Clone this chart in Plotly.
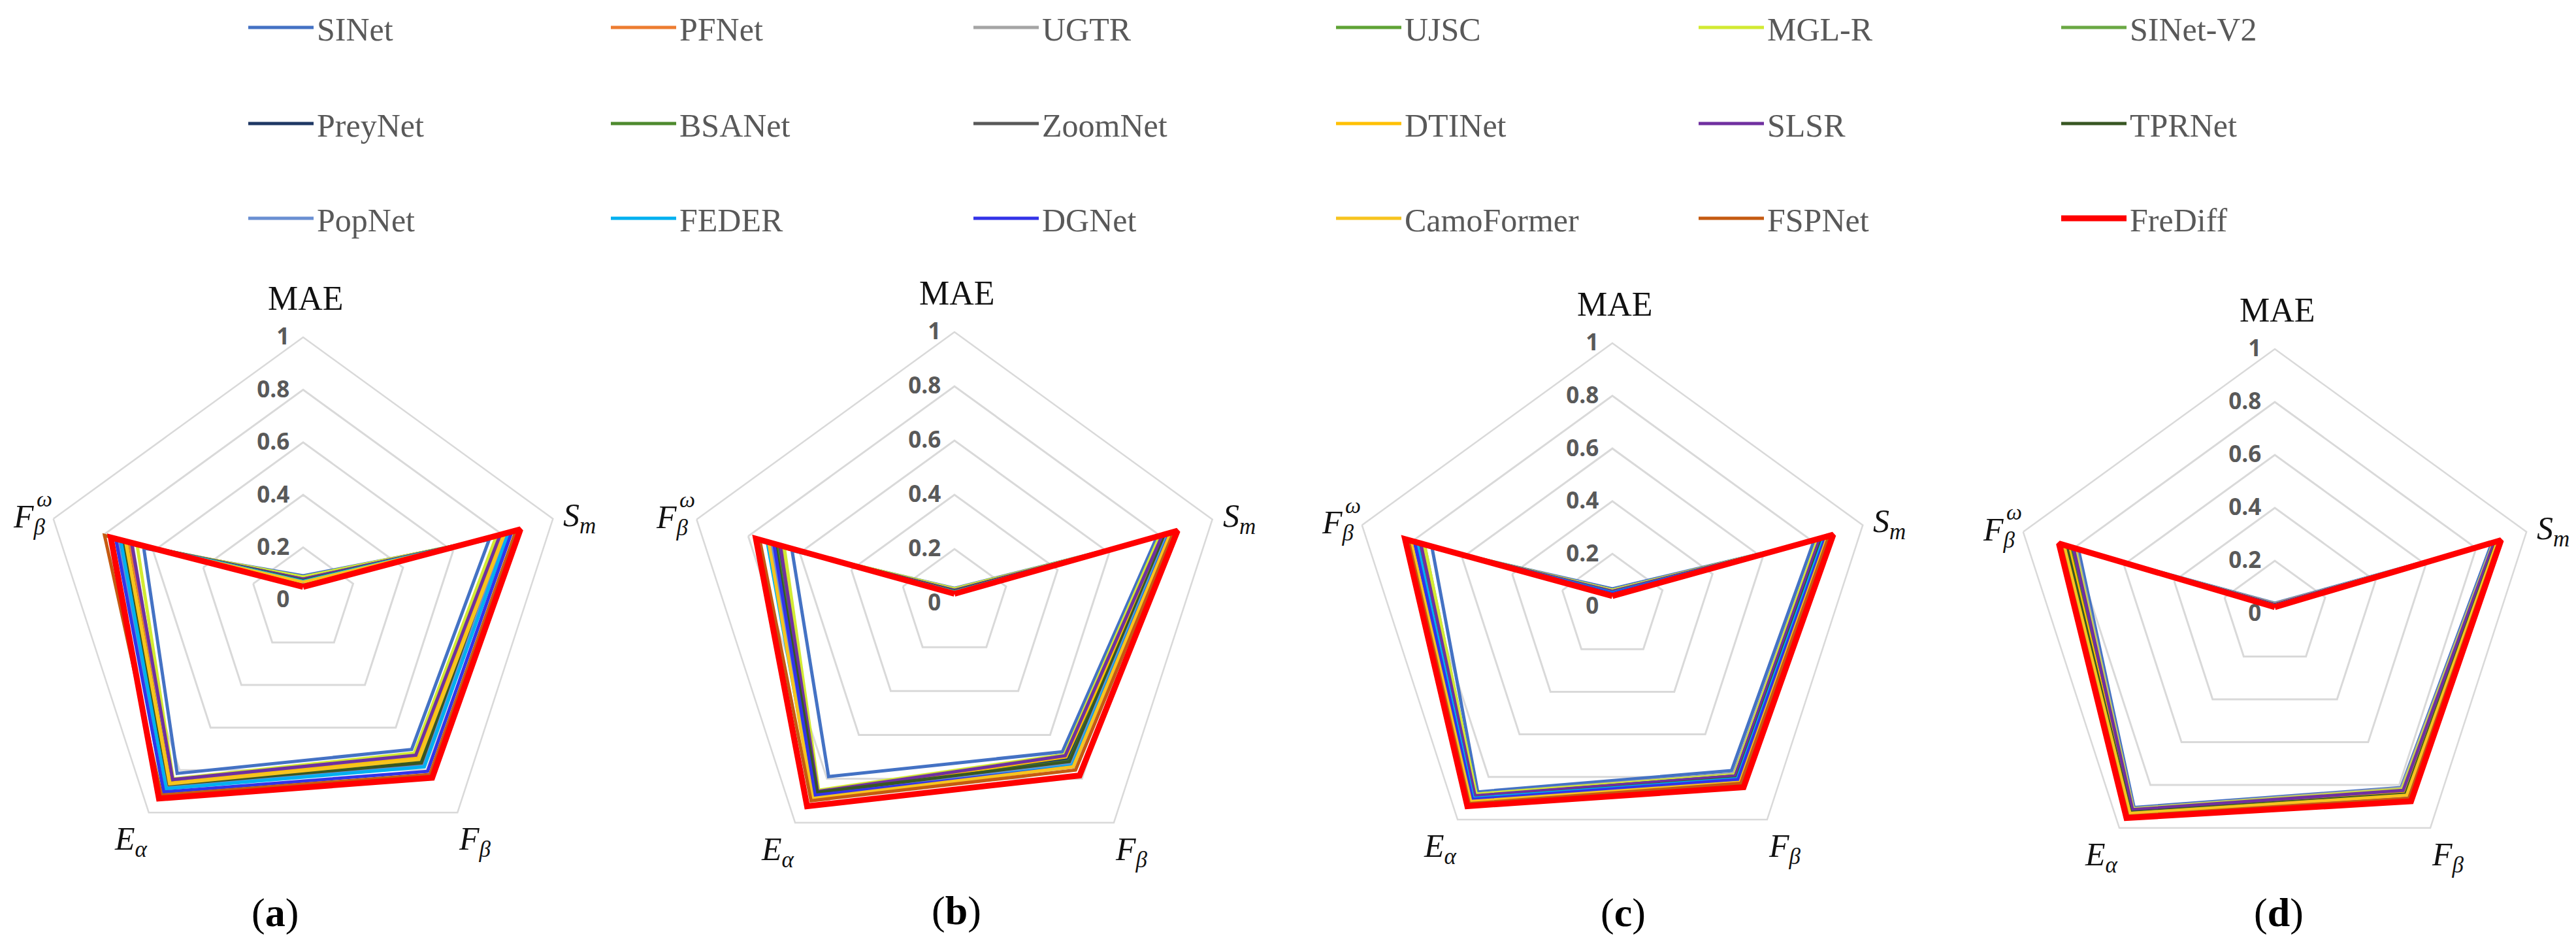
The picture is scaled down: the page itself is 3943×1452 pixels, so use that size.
import math
import plotly.graph_objects as go

# ---------------- data ----------------
metrics = ["MAE", "Sm", "Fβ", "Eα", "Fβω"]
metric_labels = ["MAE", "<i>S</i><sub><i>m</i></sub>", "<i>F</i><sub><i>β</i></sub>",
                 "<i>E</i><sub><i>α</i></sub>", "<i>F</i><sub><i>β</i></sub>"]

methods = ["SINet", "PFNet", "UGTR", "UJSC", "MGL-R", "SINet-V2",
           "PreyNet", "BSANet", "ZoomNet", "DTINet", "SLSR", "TPRNet",
           "PopNet", "FEDER", "DGNet", "CamoFormer", "FSPNet", "FreDiff"]

colors = ["#4472C4", "#ED7D31", "#A5A5A5", "#5FA336", "#D2EA32", "#6AA843",
          "#1F3864", "#4E8A2E", "#595959", "#FFC000", "#7030A0", "#385723",
          "#6A8FD2", "#00B0F0", "#3333E8", "#F7C41F", "#C55A11", "#FF0000"]

# values per panel: [MAE, Sm, F_beta, E_alpha, F_beta^w]
panel_a = {
    "SINet": [0.092, 0.745, 0.703, 0.816, 0.638],
    "PFNet": [0.085, 0.782, 0.746, 0.855, 0.695],
    "UGTR": [0.086, 0.784, 0.740, 0.850, 0.684],
    "UJSC": [0.073, 0.800, 0.768, 0.870, 0.728],
    "MGL-R": [0.088, 0.772, 0.720, 0.842, 0.664],
    "SINet-V2": [0.070, 0.810, 0.770, 0.875, 0.730],
    "PreyNet": [0.077, 0.790, 0.757, 0.862, 0.708],
    "BSANet": [0.079, 0.794, 0.763, 0.866, 0.717],
    "ZoomNet": [0.066, 0.815, 0.778, 0.880, 0.740],
    "DTINet": [0.072, 0.796, 0.745, 0.862, 0.708],
    "SLSR": [0.080, 0.787, 0.730, 0.845, 0.686],
    "TPRNet": [0.074, 0.807, 0.765, 0.877, 0.725],
    "PopNet": [0.070, 0.812, 0.782, 0.885, 0.744],
    "FEDER": [0.071, 0.822, 0.785, 0.888, 0.730],
    "DGNet": [0.060, 0.835, 0.806, 0.903, 0.750],
    "CamoFormer": [0.068, 0.805, 0.750, 0.865, 0.710],
    "FSPNet": [0.055, 0.852, 0.821, 0.918, 0.795],
    "FreDiff": [0.050, 0.870, 0.836, 0.934, 0.770],
}
panel_b = {
    "SINet": [0.055, 0.784, 0.677, 0.790, 0.630],
    "PFNet": [0.050, 0.805, 0.700, 0.860, 0.670],
    "UGTR": [0.050, 0.810, 0.705, 0.855, 0.675],
    "UJSC": [0.045, 0.812, 0.715, 0.868, 0.690],
    "MGL-R": [0.053, 0.795, 0.690, 0.852, 0.660],
    "SINet-V2": [0.045, 0.815, 0.718, 0.862, 0.685],
    "PreyNet": [0.045, 0.813, 0.712, 0.865, 0.685],
    "BSANet": [0.047, 0.818, 0.720, 0.860, 0.690],
    "ZoomNet": [0.042, 0.830, 0.725, 0.870, 0.705],
    "DTINet": [0.045, 0.823, 0.700, 0.865, 0.700],
    "SLSR": [0.048, 0.805, 0.695, 0.858, 0.675],
    "TPRNet": [0.045, 0.820, 0.722, 0.862, 0.695],
    "PopNet": [0.042, 0.828, 0.735, 0.880, 0.710],
    "FEDER": [0.042, 0.833, 0.740, 0.885, 0.726],
    "DGNet": [0.040, 0.835, 0.745, 0.875, 0.700],
    "CamoFormer": [0.040, 0.838, 0.745, 0.890, 0.720],
    "FSPNet": [0.038, 0.850, 0.760, 0.900, 0.755],
    "FreDiff": [0.035, 0.865, 0.785, 0.925, 0.770],
}
panel_c = {
    "SINet": [0.067, 0.805, 0.770, 0.870, 0.720],
    "PFNet": [0.060, 0.825, 0.790, 0.885, 0.760],
    "UGTR": [0.062, 0.820, 0.785, 0.880, 0.750],
    "UJSC": [0.055, 0.835, 0.800, 0.895, 0.775],
    "MGL-R": [0.062, 0.820, 0.790, 0.880, 0.750],
    "SINet-V2": [0.055, 0.838, 0.800, 0.895, 0.775],
    "PreyNet": [0.055, 0.830, 0.795, 0.890, 0.770],
    "BSANet": [0.057, 0.832, 0.800, 0.890, 0.772],
    "ZoomNet": [0.050, 0.845, 0.805, 0.900, 0.785],
    "DTINet": [0.050, 0.850, 0.810, 0.905, 0.790],
    "SLSR": [0.058, 0.828, 0.795, 0.888, 0.765],
    "TPRNet": [0.053, 0.840, 0.805, 0.900, 0.780],
    "PopNet": [0.050, 0.850, 0.812, 0.905, 0.790],
    "FEDER": [0.052, 0.845, 0.808, 0.900, 0.780],
    "DGNet": [0.050, 0.852, 0.812, 0.905, 0.790],
    "CamoFormer": [0.045, 0.860, 0.825, 0.915, 0.805],
    "FSPNet": [0.043, 0.865, 0.830, 0.925, 0.815],
    "FreDiff": [0.040, 0.882, 0.848, 0.937, 0.828],
}
panel_d = {
    "SINet": [0.040, 0.862, 0.812, 0.905, 0.780],
    "PFNet": [0.036, 0.872, 0.825, 0.915, 0.800],
    "UGTR": [0.038, 0.868, 0.815, 0.910, 0.790],
    "UJSC": [0.032, 0.880, 0.840, 0.925, 0.820],
    "MGL-R": [0.036, 0.870, 0.820, 0.912, 0.795],
    "SINet-V2": [0.032, 0.882, 0.842, 0.928, 0.825],
    "PreyNet": [0.034, 0.875, 0.830, 0.920, 0.810],
    "BSANet": [0.033, 0.878, 0.835, 0.922, 0.815],
    "ZoomNet": [0.030, 0.885, 0.845, 0.930, 0.835],
    "DTINet": [0.032, 0.880, 0.835, 0.925, 0.820],
    "SLSR": [0.035, 0.872, 0.825, 0.915, 0.800],
    "TPRNet": [0.031, 0.883, 0.842, 0.928, 0.828],
    "PopNet": [0.029, 0.888, 0.852, 0.935, 0.845],
    "FEDER": [0.030, 0.886, 0.850, 0.933, 0.840],
    "DGNet": [0.028, 0.890, 0.860, 0.940, 0.860],
    "CamoFormer": [0.030, 0.885, 0.848, 0.932, 0.838],
    "FSPNet": [0.027, 0.892, 0.862, 0.945, 0.850],
    "FreDiff": [0.025, 0.899, 0.876, 0.954, 0.858],
}
panels = [panel_a, panel_b, panel_c, panel_d]
panel_labels = ["(<b>a</b>)", "(<b>b</b>)", "(<b>c</b>)", "(<b>d</b>)"]

radial_ticks = [0, 0.2, 0.4, 0.6, 0.8, 1]
radial_ticktext = ["0", "0.2", "0.4", "0.6", "0.8", "1"]

# ---------------- layout constants (pixels) ----------------
W, H = 3943, 1452
centers = [(464, 918), (1461, 923), (2468, 928), (3482, 939)]
radii = [402, 415, 403, 405]
label_pos = [(421, 1396), (1464, 1393), (2484, 1396), (3488, 1396)]
axis_angles = [90, 18, -54, -126, 162]          # degrees, clockwise from top
# label placement relative to each vertex: (dx, dy, xanchor)
label_offsets = [(4, -60, "center"), (14, -2, "left"), (27, 44, "center"),
                 (-27, 44, "center"), (-10, 0, "right")]
omega_offset = (-14, -30)

fig = go.Figure()

for p, data in enumerate(panels):
    sub = "polar" if p == 0 else f"polar{p+1}"
    for i, m in enumerate(methods):
        vals = data[m]
        fig.add_trace(go.Scatterpolar(
            r=vals + vals[:1],
            theta=metrics + metrics[:1],
            mode="lines",
            name=m,
            line=dict(color=colors[i], width=9 if m == "FreDiff" else 5),
            subplot=sub,
            legendgroup=m,
            showlegend=(p == 0),
            legend="legend" if i < 6 else ("legend2" if i < 12 else "legend3"),
        ))

polar_common = dict(
    bgcolor="rgba(0,0,0,0)",
    gridshape="linear",
    radialaxis=dict(
        range=[0, 1], tickvals=radial_ticks, ticktext=radial_ticktext,
        angle=90, tickangle=90, side="counterclockwise",
        showline=False, showgrid=True, gridcolor="#D9D9D9", gridwidth=2.5,
        ticks="outside", ticklen=8, tickcolor="rgba(0,0,0,0)",
        tickfont=dict(family="Open Sans", size=35, color="#595959", weight="bold"),
        layer="below traces",
    ),
    angularaxis=dict(
        rotation=90, direction="clockwise",
        showgrid=False, showline=True, linecolor="#D9D9D9", linewidth=2.5,
        ticks="", showticklabels=False,
        layer="below traces",
    ),
)

layout_polars = {}
annotations = []
for p in range(4):
    cx, cy = centers[p]
    R = radii[p]
    dom = dict(x=[(cx - R) / W, (cx + R) / W], y=[1 - (cy + R) / H, 1 - (cy - R) / H])
    key = "polar" if p == 0 else f"polar{p+1}"
    layout_polars[key] = dict(domain=dom, **polar_common)

    # metric names placed just outside each vertex of the outer pentagon
    for k, ang in enumerate(axis_angles):
        vx = cx + R * math.cos(math.radians(ang))
        vy = cy - R * math.sin(math.radians(ang))
        dx, dy, xa = label_offsets[k]
        annotations.append(dict(
            x=(vx + dx) / W, y=1 - (vy + dy) / H, xref="paper", yref="paper",
            text=metric_labels[k], showarrow=False, xanchor=xa, yanchor="middle",
            font=dict(family="Liberation Serif", size=52 if k == 0 else 50, color="#111111"),
        ))
        if k == 4:
            annotations.append(dict(
                x=(vx + omega_offset[0]) / W, y=1 - (vy + omega_offset[1]) / H,
                xref="paper", yref="paper", text="<i>ω</i>", showarrow=False,
                xanchor="center", yanchor="middle",
                font=dict(family="Liberation Serif", size=34, color="#111111"),
            ))

    lx, ly = label_pos[p]
    annotations.append(dict(
        x=lx / W, y=1 - ly / H, xref="paper", yref="paper",
        text=panel_labels[p], showarrow=False,
        font=dict(family="Liberation Serif", size=62, color="#000000"),
        xanchor="center", yanchor="middle",
    ))

legend_common = dict(
    orientation="h", xanchor="left", yanchor="middle",
    font=dict(family="Liberation Serif", size=50, color="#595959"),
    itemwidth=100, entrywidth=440, entrywidthmode="pixels",
    bgcolor="rgba(0,0,0,0)", itemclick=False, itemdoubleclick=False,
    tracegroupgap=0,
)
legend_rows_y = [42, 189, 334]

fig.update_layout(
    width=W, height=H,
    margin=dict(l=0, r=0, t=0, b=0),
    paper_bgcolor="white", plot_bgcolor="white",
    legend=dict(x=375 / W, y=1 - legend_rows_y[0] / H, **legend_common),
    legend2=dict(x=375 / W, y=1 - legend_rows_y[1] / H, **legend_common),
    legend3=dict(x=375 / W, y=1 - legend_rows_y[2] / H, **legend_common),
    annotations=annotations,
    **layout_polars,
)

fig.write_html("out.html",
               config={"displayModeBar": False},
               post_script="document.body.style.margin='0px';document.body.style.overflow='hidden';")
